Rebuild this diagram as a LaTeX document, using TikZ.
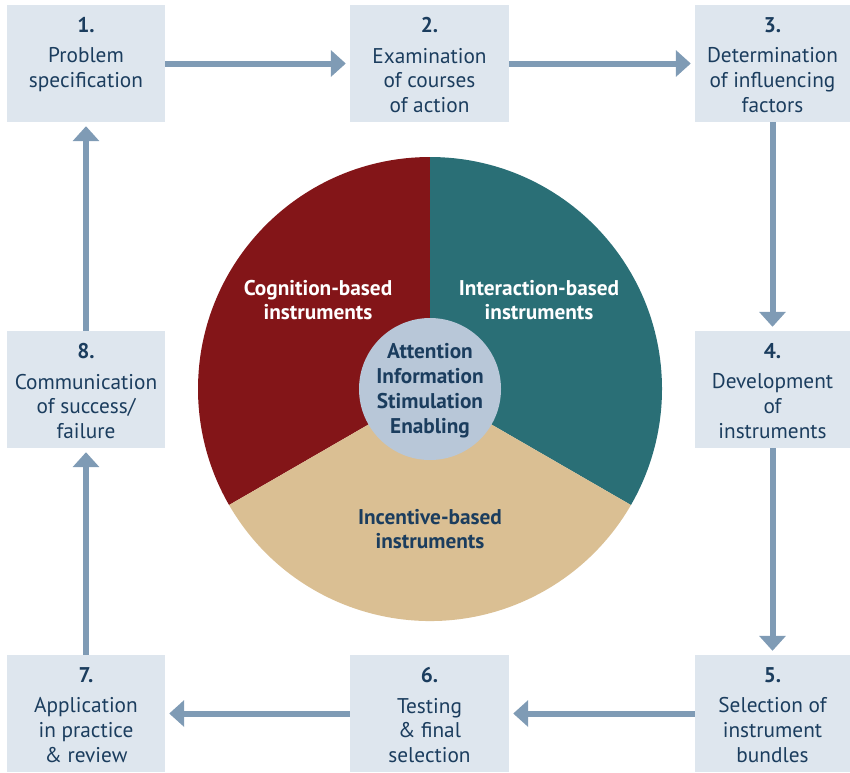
\documentclass[tikz,border=0pt]{standalone}
\usepackage{fontspec}
\setmainfont{PT Sans}
\usetikzlibrary{arrows.meta}
\definecolor{boxfill}{HTML}{DEE6EE}
\definecolor{navy}{HTML}{1B3D5E}
\definecolor{arrowc}{HTML}{7F9BB5}
\definecolor{redc}{HTML}{831518}
\definecolor{tealc}{HTML}{2A6F76}
\definecolor{tanc}{HTML}{DABF93}
\definecolor{innerc}{HTML}{B8C7D8}
\begin{document}
\begin{tikzpicture}[x=1pt,y=-1pt,
  stepbox/.style={fill=boxfill, draw=none, minimum height=117pt, inner sep=0pt},
  steptext/.style={anchor=north, align=center, text=navy, inner sep=0pt,
    font=\fontsize{21.3}{24.8}\selectfont},
  flow/.style={draw=arrowc, line width=6pt, shorten >=4pt,
    -{Triangle[length=15pt,width=26pt]}},
  seglabel/.style={align=center, font=\fontsize{21.3}{24.8}\selectfont\bfseries}]
\useasboundingbox (0,0) rectangle (850,772);
% boxes
\node[stepbox, minimum width=158pt] (b1) at (86,63.5) {};
\node[stepbox, minimum width=159pt] (b2) at (429.5,63.5) {};
\node[stepbox, minimum width=155pt] (b3) at (772.5,63.5) {};
\node[stepbox, minimum width=155pt] (b4) at (772.5,389.5) {};
\node[stepbox, minimum width=155pt] (b5) at (772.5,713.5) {};
\node[stepbox, minimum width=159pt] (b6) at (429.5,713.5) {};
\node[stepbox, minimum width=158pt] (b7) at (86,713.5) {};
\node[stepbox, minimum width=158pt] (b8) at (86,389.5) {};
% texts
\node[steptext] (t1) at ([yshift=-12.5pt]b1.north) {\textbf{1.}\\[5.5pt]Problem\\specification};
\node[steptext] (t2) at ([yshift=-12.5pt]b2.north) {\textbf{2.}\\[5.5pt]Examination\\of courses\\of action};
\node[steptext] (t3) at ([yshift=-12.5pt]b3.north) {\textbf{3.}\\[5.5pt]Determination\\of influencing\\factors};
\node[steptext] (t4) at ([yshift=-12.5pt]b4.north) {\textbf{4.}\\[5.5pt]Development\\of\\instruments};
\node[steptext] (t5) at ([yshift=-12.5pt]b5.north) {\textbf{5.}\\[5.5pt]Selection of\\instrument\\bundles};
\node[steptext] (t6) at ([yshift=-12.5pt]b6.north) {\textbf{6.}\\[5.5pt]Testing\\\&~final\\selection};
\node[steptext] (t7) at ([yshift=-12.5pt]b7.north) {\textbf{7.}\\[5.5pt]Application\\in practice\\\&~review};
\node[steptext] (t8) at ([yshift=-12.5pt]b8.north) {\textbf{8.}\\[5.5pt]Communication\\of success/\\failure};
% arrows
\draw[flow] (b1.east) -- (b2.west);
\draw[flow] (b2.east) -- (b3.west);
\draw[flow] (b3.south) -- (b4.north);
\draw[flow] (b4.south) -- (b5.north);
\draw[flow] (b5.west) -- (b6.east);
\draw[flow] (b6.west) -- (b7.east);
\draw[flow] (b7.north) -- (b8.south);
\draw[flow] (b8.north) -- (b1.south);
% circle
\begin{scope}[shift={(430,389)}, y=1pt]
  \fill[redc] (0,0) -- (90:232) arc[start angle=90, end angle=210, radius=232] -- cycle;
  \fill[tealc] (0,0) -- (90:232) arc[start angle=90, end angle=-30, radius=232] -- cycle;
  \fill[tanc] (0,0) -- (210:232) arc[start angle=210, end angle=330, radius=232] -- cycle;
  \fill[innerc] (0,0) circle[radius=71];
\end{scope}
\node[seglabel, text=white] (cog) at (318,300) {Cognition-based\\instruments};
\node[seglabel, text=white] (inter) at (539,300) {Interaction-based\\instruments};
\node[seglabel, text=navy] (inc) at (430,529) {Incentive-based\\instruments};
\node[seglabel, text=navy] (core) at (430,390.5) {Attention\\Information\\Stimulation\\Enabling};
\end{tikzpicture}
\end{document}
